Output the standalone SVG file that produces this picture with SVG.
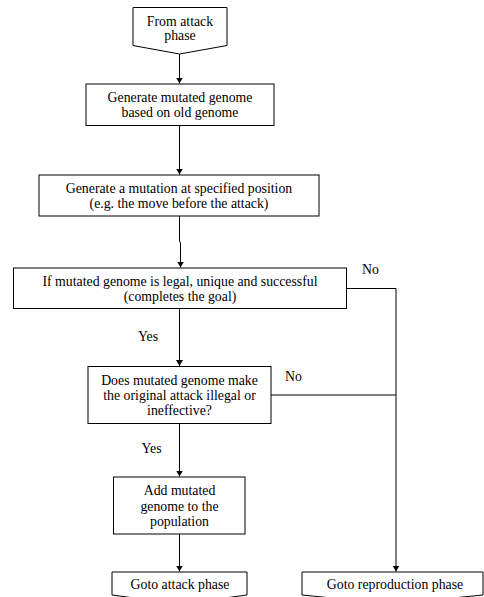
<svg xmlns="http://www.w3.org/2000/svg" width="484" height="597" viewBox="0 0 484 597">
<style>
.shape{fill:#fff;stroke:#000;stroke-width:1}
.t{font-family:"Liberation Serif","Times New Roman",serif;font-size:13.8px;fill:#000;text-anchor:middle}
.l{font-family:"Liberation Serif","Times New Roman",serif;font-size:13.8px;fill:#000}
.c{fill:none;stroke:#000;stroke-width:1}
</style>
<defs>
<marker id="ah" markerWidth="7" markerHeight="8" refX="6" refY="3.5" orient="auto" markerUnits="userSpaceOnUse">
<path d="M0,0 L6,3.5 L0,7 Z" fill="#000"/>
</marker>
</defs>
<rect width="484" height="597" fill="#fff"/>
<g id="connectors">
<path class="c" d="M179.5,54 V83.5" marker-end="url(#ah)"/>
<path class="c" d="M179.5,125.5 V174.5" marker-end="url(#ah)"/>
<path class="c" d="M179.5,216 V241 L180.5,243 V267.5" marker-end="url(#ah)"/>
<path class="c" d="M179.5,308.5 V366" marker-end="url(#ah)"/>
<path class="c" d="M179.5,423.5 V476.5" marker-end="url(#ah)"/>
<path class="c" d="M179.5,534 V571.5" marker-end="url(#ah)"/>
<path class="c" d="M346.5,288.5 H396 V571.5" marker-end="url(#ah)"/>
<path class="c" d="M271,395 H396"/>
<text class="l" x="362" y="273.5">No</text>
<text class="l" x="285" y="381">No</text>
<text class="l" x="138" y="341">Yes</text>
<text class="l" x="141.5" y="453">Yes</text>
</g>
<g id="start">
<path class="shape" d="M133,7.5 H227 V45.5 L179.5,54 L133,45.5 Z"/>
<text class="t" x="180" y="25.5">From attack</text>
<text class="t" x="180" y="40">phase</text>
</g>
<g id="generate-genome">
<rect class="shape" x="86" y="84" width="188" height="41.5"/>
<text class="t" x="180" y="101.5">Generate mutated genome</text>
<text class="t" x="180" y="116.5">based on old genome</text>
</g>
<g id="generate-mutation">
<rect class="shape" x="39" y="175" width="280" height="41"/>
<text class="t" x="179" y="192.5">Generate a mutation at specified position</text>
<text class="t" x="179" y="207.5">(e.g. the move before the attack)</text>
</g>
<g id="check-legal">
<rect class="shape" x="13.5" y="268" width="333" height="40.5"/>
<text class="t" x="180" y="285.5">If mutated genome is legal, unique and successful</text>
<text class="t" x="180" y="300.5">(completes the goal)</text>
</g>
<g id="check-attack">
<rect class="shape" x="88" y="366.5" width="183" height="57"/>
<text class="t" x="179.5" y="385">Does mutated genome make</text>
<text class="t" x="179.5" y="400">the original attack illegal or</text>
<text class="t" x="179.5" y="415">ineffective?</text>
</g>
<g id="add-genome">
<rect class="shape" x="113.5" y="477" width="131.5" height="57"/>
<text class="t" x="179.5" y="495">Add mutated</text>
<text class="t" x="179.5" y="510.5">genome to the</text>
<text class="t" x="179.5" y="526">population</text>
</g>
<g id="goto-attack">
<path class="shape" d="M112,572 H247 V595 L179.5,604 L112,595 Z"/>
<text class="t" x="180" y="589">Goto attack phase</text>
</g>
<g id="goto-reproduction">
<path class="shape" d="M302,572 H483 V595 L392.5,604 L302,595 Z"/>
<text class="t" x="395" y="589">Goto reproduction phase</text>
</g>
</svg>
